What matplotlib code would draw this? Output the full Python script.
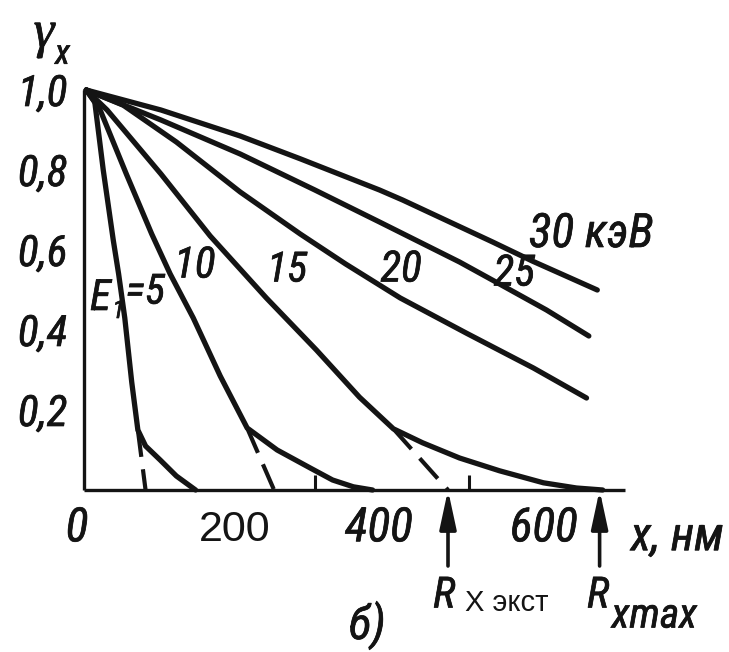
import matplotlib
matplotlib.use("Agg")
import matplotlib.pyplot as plt
import matplotlib.patheffects as pe
from matplotlib.transforms import ScaledTranslation

INK = "#141414"
NARROW = ["Roboto Condensed", "PT Sans Narrow", "Archivo Narrow", "DejaVu Sans"]
PLAIN = ["Liberation Sans", "DejaVu Sans"]
SERIF = ["Liberation Serif", "DejaVu Serif"]
HEAVY = [pe.withStroke(linewidth=0.5, foreground=INK)]

# Primary electron energies E1, keV
energies = [5, 10, 15, 20, 25, 30]

# Solid curves: depth x (nm) and gamma_x
x_5 = [3, 14, 25, 38, 45, 53, 62, 70, 80, 99, 120, 145]
y_5 = [1.0, 0.97, 0.80, 0.625, 0.54, 0.43, 0.27, 0.15, 0.11, 0.075, 0.035, 0.0]

x_10 = [3, 21, 55, 88, 112, 142, 177, 212, 251, 294, 323, 350, 375]
y_10 = [1.0, 0.95, 0.79, 0.64, 0.54, 0.43, 0.285, 0.155, 0.10, 0.055, 0.025, 0.008, 0.0]

x_15 = [3, 30, 100, 164, 237, 302, 358, 402, 440, 488, 540, 597, 640, 674]
y_15 = [1.0, 0.95, 0.79, 0.635, 0.48, 0.35, 0.232, 0.153, 0.118, 0.08, 0.048, 0.018, 0.005, 0.0]

x_20 = [3, 51, 120, 203, 281, 340, 411, 497, 584, 653]
y_20 = [1.0, 0.962, 0.87, 0.745, 0.64, 0.565, 0.48, 0.392, 0.305, 0.23]

x_25 = [3, 100, 203, 300, 384, 488, 540, 601, 656]
y_25 = [1.0, 0.925, 0.84, 0.75, 0.67, 0.57, 0.515, 0.45, 0.385]

x_30 = [3, 100, 203, 281, 384, 414, 531, 583, 667]
y_30 = [1.0, 0.95, 0.885, 0.828, 0.75, 0.725, 0.62, 0.572, 0.50]

# Dashed linear extrapolations to the extrapolated range
dash_x5, dash_y5 = [70, 80], [0.15, 0.0]
dash_x10, dash_y10 = [212, 247], [0.155, 0.0]
dash_x15, dash_y15 = [402, 473], [0.153, 0.0]

# Ranges marked by arrows on the depth axis, nm
r_ext = 473
r_max = 670

y_ticks = [0.2, 0.4, 0.6, 0.8, 1.0]
y_tick_labels = ["0,2", "0,4", "0,6", "0,8", "1,0"]
x_ticks = [0, 200, 400, 600]
x_tick_labels = ["0", "200", "400", "600"]
x_marks = [200, 300, 400, 500, 600]
y_marks = [0.2, 0.4, 0.6, 0.8]

fig = plt.figure(figsize=(7.29, 6.52), dpi=100)
fig.patch.set_facecolor("white")
ax = fig.add_axes([84 / 729, 162 / 652, 541 / 729, 400 / 652])
ax.set_xlim(0, 703)
ax.set_ylim(0, 1.0)
ax.patch.set_alpha(0)

for s in ("top", "right"):
    ax.spines[s].set_visible(False)
for s in ("left", "bottom"):
    ax.spines[s].set_linewidth(2.4)
    ax.spines[s].set_color(INK)
    ax.spines[s].set_capstyle("butt")

curve_kw = dict(color=INK, lw=3.8, solid_capstyle="round", solid_joinstyle="round",
                clip_on=False, zorder=3)
for xs, ys in [(x_5, y_5), (x_10, y_10), (x_15, y_15),
               (x_20, y_20), (x_25, y_25), (x_30, y_30)]:
    ax.plot(xs, ys, **curve_kw)

for xs, ys in [(dash_x5, dash_y5), (dash_x10, dash_y10), (dash_x15, dash_y15)]:
    ax.plot(xs, ys, color=INK, lw=3.0, dashes=(6.5, 3.0), clip_on=False, zorder=3)

# ticks: labels on major ticks, inward marks on minor ticks
ax.set_yticks(y_ticks, y_tick_labels)
ax.set_xticks(x_ticks, x_tick_labels)
ax.set_yticks(y_marks, minor=True)
ax.set_xticks(x_marks, minor=True)
ax.tick_params(axis="both", which="major", length=0, colors=INK)
ax.tick_params(axis="y", which="major", pad=12)
ax.tick_params(axis="x", which="major", pad=11)
ax.tick_params(axis="both", which="minor", direction="in", length=11, width=2.2, color=INK)

for lbl in ax.get_yticklabels():
    lbl.set_fontfamily(NARROW)
    lbl.set_fontstyle("italic")
    lbl.set_fontsize(31)
    lbl.set_path_effects(HEAVY)

x_offsets = [-7, -3, -13, -2]
for lbl, dx in zip(ax.get_xticklabels(), x_offsets):
    if lbl.get_text() == "200":
        lbl.set_fontfamily(PLAIN)
        lbl.set_fontstyle("normal")
        lbl.set_fontsize(31)
        dy = -5
    else:
        lbl.set_fontfamily(NARROW)
        lbl.set_fontstyle("italic")
        lbl.set_fontsize(34)
        lbl.set_path_effects(HEAVY)
        dy = 0
    lbl.set_transform(lbl.get_transform()
                      + ScaledTranslation(dx / 100, dy / 100, fig.dpi_scale_trans))

txt = dict(color=INK, family=NARROW, style="italic", clip_on=False,
           ha="center", va="center", path_effects=HEAVY)
base = dict(color=INK, family=NARROW, style="italic", clip_on=False,
            ha="left", va="baseline", path_effects=HEAVY)

# energy labels of the curves
ax.text(7.8, 0.45, "E", fontsize=31, **base)
ax.text(37, 0.43, "1", fontsize=18, **base)
ax.text(54, 0.466, "=5", fontsize=30, **base)
ax.text(144, 0.56, "10", fontsize=31, **txt)
ax.text(264, 0.55, "15", fontsize=30, **txt)
ax.text(412, 0.55, "20", fontsize=31, **txt)
ax.text(559, 0.54, "25", fontsize=31, **txt)
ax.text(659, 0.64, "30 кэВ", fontsize=34, **txt)

# axis titles
ax.text(-52, 1.14, "γ", fontsize=38, color=INK, family=SERIF, style="italic",
        ha="center", va="center", clip_on=False, path_effects=HEAVY)
ax.text(-28, 1.09, "x", fontsize=25, **txt)
ax.text(771, -0.118, "x, нм", fontsize=34, **txt)

# range arrows and their labels
arrow_kw = dict(arrowstyle="-|>,head_length=1.3,head_width=0.28", color=INK,
                lw=2.6, shrinkA=0, shrinkB=0, mutation_scale=18)
for xr in (r_ext, r_max):
    ax.annotate("", xy=(xr, 0.0), xytext=(xr, -0.19),
                arrowprops=arrow_kw, annotation_clip=False)

ax.text(468, -0.265, "R", fontsize=31, **txt)
ax.text(549, -0.283, "X экст", fontsize=21, color=INK, family=PLAIN,
        ha="center", va="center", clip_on=False)
ax.text(668, -0.265, "R", fontsize=31, **txt)
ax.text(741, -0.315, "xmax", fontsize=30, **txt)

ax.text(368, -0.338, "б)", fontsize=34, **txt)

fig.savefig("out.png", dpi=100, facecolor="white")
